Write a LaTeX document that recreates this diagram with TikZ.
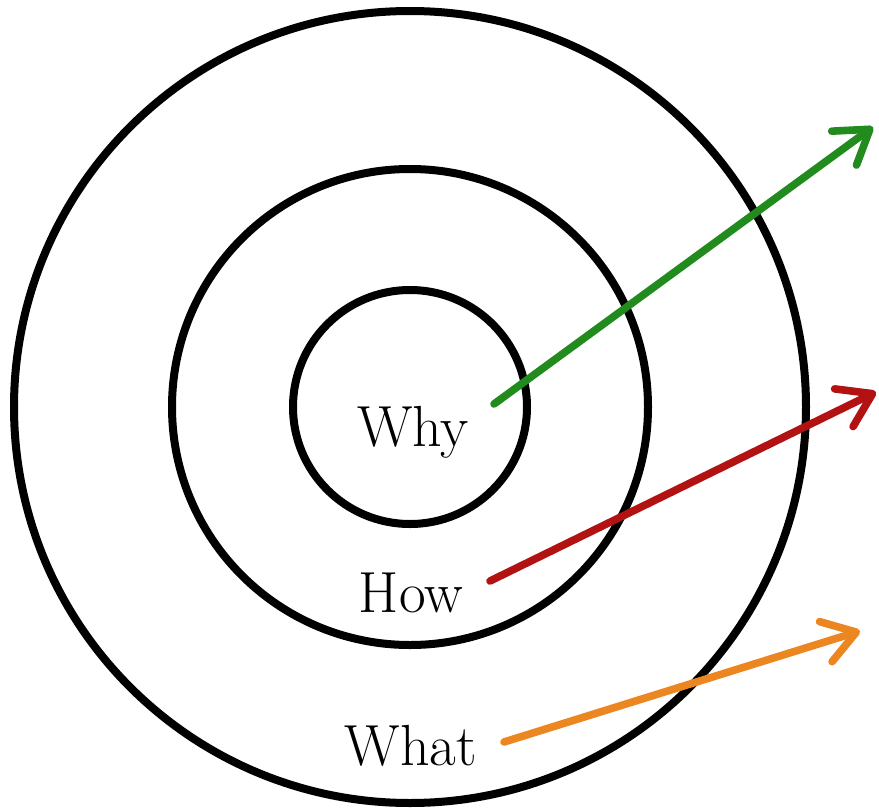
\documentclass[tikz,border=0pt]{standalone}
\usepackage{tikz}
\usetikzlibrary{arrows.meta,positioning}
\definecolor{whygreen}{RGB}{34,139,30}
\definecolor{howred}{RGB}{178,18,18}
\definecolor{whatorange}{RGB}{236,134,32}
\tikzset{
  ring/.style={circle, draw=black, line width=4pt, inner sep=0pt},
  word/.style={font=\fontsize{29}{32}\selectfont, anchor=base, inner sep=0pt},
  ray/.style={line width=3.8pt, line cap=round, line join=round,
              -{Straight Barb[length=16pt,width=21pt,round]}},
}

\begin{document}
\begin{tikzpicture}[x=0.5pt, y=-0.5pt]
  \useasboundingbox (0,0) rectangle (879,809);
  \coordinate (c) at (410,407);
  % the three rings
  \node[ring, minimum size=117pt] (inner) at (c) {};
  \node[ring, minimum size=238pt] (middle) at (c) {};
  \node[ring, minimum size=396pt] (outer) at (c) {};
  % labels
  \node[word] (why) at (413,446) {Why};
  \node[word] (how) at (411,612) {How};
  \node[word] (what) at (411,765) {What};
  % arrows
  \coordinate (whyS) at (494,404);
  \coordinate (whyT) at (873,127);
  \coordinate (howS) at (490,581);
  \coordinate (howT) at (876,392);
  \coordinate (whatS) at (504,742);
  \coordinate (whatT) at (860,631);
  \draw[ray, whygreen] (whyS) -- (whyT);
  \draw[ray, howred] (howS) -- (howT);
  \draw[ray, whatorange] (whatS) -- (whatT);
\end{tikzpicture}
\end{document}
